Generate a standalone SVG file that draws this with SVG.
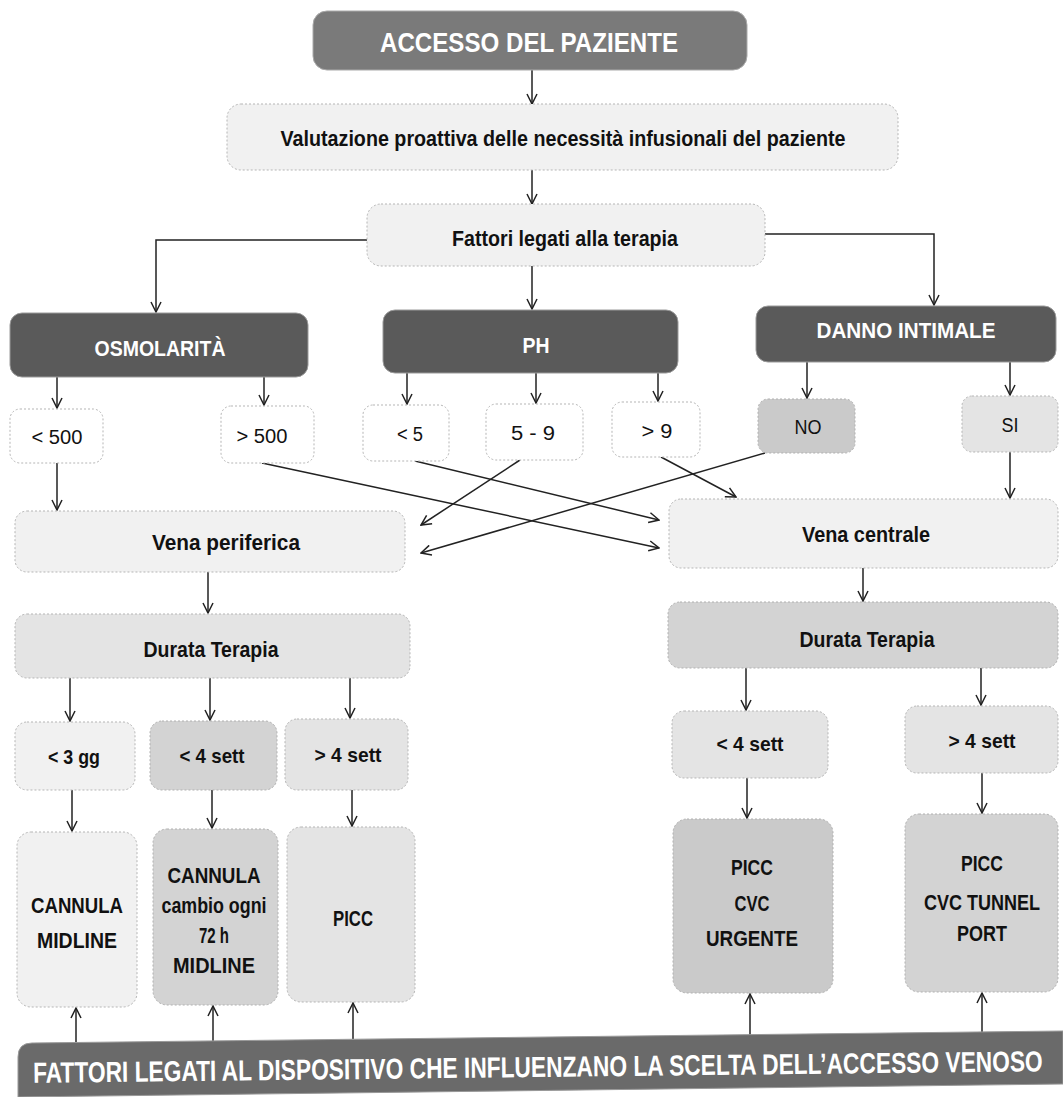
<svg xmlns="http://www.w3.org/2000/svg" width="1063" height="1097" viewBox="0 0 1063 1097">
<style>
text{font-family:"Liberation Sans",Arial,sans-serif;text-anchor:middle;fill:#111;}
.b{font-weight:bold;}
.w{fill:#fff;font-weight:bold;}
.dark{fill:#5a5a5a;stroke:#9a9a9a;stroke-width:1;}
.mid{fill:#7a7a7a;stroke:#aaa;stroke-width:1;}
.lt{fill:#f1f1f1;stroke:#b5b5b5;stroke-width:1;stroke-dasharray:2 2;}
.wh{fill:#fff;stroke:#b5b5b5;stroke-width:1;stroke-dasharray:2 2;}
.g1{fill:#e4e4e4;stroke:#b5b5b5;stroke-width:1;stroke-dasharray:2 2;}
.g2{fill:#d3d3d3;stroke:#b0b0b0;stroke-width:1;stroke-dasharray:2 2;}
.g3{fill:#cacaca;stroke:#b0b0b0;stroke-width:1;stroke-dasharray:2 2;}
.c{fill:none;stroke:#222;stroke-width:1.5;marker-end:url(#ar);}
</style>
<defs>
<marker id="ar" viewBox="0 0 12 12" refX="11" refY="6" markerWidth="12" markerHeight="12" markerUnits="userSpaceOnUse" orient="auto">
<path d="M1,1 L11,6 L1,11" fill="none" stroke="#222" stroke-width="1.5"/>
</marker>
</defs>
<rect width="1063" height="1097" fill="#fff"/>

<g id="connectors">
<path class="c" d="M532,70 V104"/>
<path class="c" d="M532,170 V204"/>
<path class="c" d="M532,266 V309"/>
<path class="c" d="M367,240 H156 V312"/>
<path class="c" d="M765,234 H934 V305"/>
<path class="c" d="M57,377 V408"/>
<path class="c" d="M264,377 V405"/>
<path class="c" d="M407,373 V404"/>
<path class="c" d="M536,373 V403"/>
<path class="c" d="M658,373 V401"/>
<path class="c" d="M807,362 V398"/>
<path class="c" d="M1010,362 V395"/>
<path class="c" d="M57,463 V510"/>
<path class="c" d="M1010,452 V498"/>
<path class="c" d="M262,463 L659,548"/>
<path class="c" d="M415,461 L659,520"/>
<path class="c" d="M520,460 L421,525"/>
<path class="c" d="M661,457 L736,497"/>
<path class="c" d="M765,453 L421,553"/>
<path class="c" d="M208,572 V613"/>
<path class="c" d="M863,568 V601"/>
<path class="c" d="M70,678 V721"/>
<path class="c" d="M210,678 V720"/>
<path class="c" d="M350,678 V718"/>
<path class="c" d="M746,668 V710"/>
<path class="c" d="M981,668 V705"/>
<path class="c" d="M72,790 V831"/>
<path class="c" d="M212,790 V828"/>
<path class="c" d="M352,790 V826"/>
<path class="c" d="M747,778 V818"/>
<path class="c" d="M982,773 V813"/>
<path class="c" d="M76,1042 V1008"/>
<path class="c" d="M213,1041 V1006"/>
<path class="c" d="M353,1039 V1003"/>
<path class="c" d="M750,1035 V994"/>
<path class="c" d="M982,1032 V993"/>
</g>

<g id="n-accesso">
<rect class="mid" x="313" y="11" width="434" height="59" rx="14"/>
<text class="w" x="529" y="52" font-size="28" textLength="298" lengthAdjust="spacingAndGlyphs">ACCESSO DEL PAZIENTE</text>
</g>
<g id="n-valutazione">
<rect class="lt" x="227" y="104" width="671" height="66" rx="14"/>
<text class="b" x="563" y="146" font-size="22" textLength="565" lengthAdjust="spacingAndGlyphs">Valutazione proattiva delle necessità infusionali del paziente</text>
</g>
<g id="n-fattori">
<rect class="lt" x="367" y="204" width="398" height="62" rx="14"/>
<text class="b" x="565" y="246" font-size="22" textLength="226" lengthAdjust="spacingAndGlyphs">Fattori legati alla terapia</text>
</g>

<g id="n-osmolarita">
<rect class="dark" x="10" y="313" width="298" height="64" rx="12"/>
<text class="w" x="160" y="356" font-size="22" textLength="131" lengthAdjust="spacingAndGlyphs">OSMOLARITÀ</text>
</g>
<g id="n-ph">
<rect class="dark" x="383" y="310" width="295" height="63" rx="12"/>
<text class="w" x="536" y="353" font-size="22" textLength="27" lengthAdjust="spacingAndGlyphs">PH</text>
</g>
<g id="n-danno">
<rect class="dark" x="756" y="306" width="300" height="56" rx="12"/>
<text class="w" x="906" y="338" font-size="22" textLength="179" lengthAdjust="spacingAndGlyphs">DANNO INTIMALE</text>
</g>

<g id="n-lt500">
<rect class="wh" x="10" y="409" width="93" height="54" rx="10"/>
<text x="57" y="444" font-size="20" textLength="51" lengthAdjust="spacingAndGlyphs">&lt; 500</text>
</g>
<g id="n-gt500">
<rect class="wh" x="221" y="406" width="93" height="57" rx="10"/>
<text x="262" y="443" font-size="20" textLength="51" lengthAdjust="spacingAndGlyphs">&gt; 500</text>
</g>
<g id="n-lt5">
<rect class="wh" x="363" y="405" width="86" height="56" rx="10"/>
<text x="410" y="441" font-size="20" textLength="26" lengthAdjust="spacingAndGlyphs">&lt; 5</text>
</g>
<g id="n-5-9">
<rect class="wh" x="486" y="404" width="97" height="56" rx="10"/>
<text x="533" y="440" font-size="20" textLength="44" lengthAdjust="spacingAndGlyphs">5 - 9</text>
</g>
<g id="n-gt9">
<rect class="wh" x="612" y="402" width="88" height="55" rx="10"/>
<text x="657" y="438" font-size="20" textLength="31" lengthAdjust="spacingAndGlyphs">&gt; 9</text>
</g>
<g id="n-no">
<rect class="g3" x="758" y="399" width="97" height="54" rx="10"/>
<text x="808" y="434" font-size="20" textLength="27" lengthAdjust="spacingAndGlyphs">NO</text>
</g>
<g id="n-si">
<rect class="g1" x="962" y="396" width="96" height="56" rx="10"/>
<text x="1010" y="432" font-size="20" textLength="17" lengthAdjust="spacingAndGlyphs">SI</text>
</g>

<g id="n-vena-periferica">
<rect class="lt" x="15" y="511" width="390" height="61" rx="12"/>
<text class="b" x="226" y="550" font-size="22" textLength="148" lengthAdjust="spacingAndGlyphs">Vena periferica</text>
</g>
<g id="n-vena-centrale">
<rect class="lt" x="669" y="499" width="389" height="69" rx="12"/>
<text class="b" x="866" y="542" font-size="22" textLength="128" lengthAdjust="spacingAndGlyphs">Vena centrale</text>
</g>

<g id="n-durata-l">
<rect class="g1" x="15" y="614" width="395" height="64" rx="12"/>
<text class="b" x="211" y="657" font-size="22" textLength="135" lengthAdjust="spacingAndGlyphs">Durata Terapia</text>
</g>
<g id="n-durata-r">
<rect class="g2" x="668" y="602" width="390" height="66" rx="12"/>
<text class="b" x="867" y="647" font-size="22" textLength="135" lengthAdjust="spacingAndGlyphs">Durata Terapia</text>
</g>

<g id="n-lt3gg">
<rect class="lt" x="15" y="722" width="120" height="68" rx="12"/>
<text class="b" x="74" y="764" font-size="21" textLength="52" lengthAdjust="spacingAndGlyphs">&lt; 3 gg</text>
</g>
<g id="n-lt4sett-l">
<rect class="g2" x="150" y="721" width="127" height="69" rx="12"/>
<text class="b" x="212" y="763" font-size="21" textLength="65" lengthAdjust="spacingAndGlyphs">&lt; 4 sett</text>
</g>
<g id="n-gt4sett-l">
<rect class="g1" x="285" y="719" width="123" height="71" rx="12"/>
<text class="b" x="348" y="762" font-size="21" textLength="67" lengthAdjust="spacingAndGlyphs">&gt; 4 sett</text>
</g>
<g id="n-lt4sett-r">
<rect class="g1" x="672" y="711" width="156" height="67" rx="12"/>
<text class="b" x="750" y="751" font-size="21" textLength="67" lengthAdjust="spacingAndGlyphs">&lt; 4 sett</text>
</g>
<g id="n-gt4sett-r">
<rect class="g1" x="905" y="706" width="153" height="67" rx="12"/>
<text class="b" x="982" y="748" font-size="21" textLength="67" lengthAdjust="spacingAndGlyphs">&gt; 4 sett</text>
</g>

<g id="n-cannula-midline">
<rect class="lt" x="17" y="832" width="120" height="175" rx="14"/>
<text class="b" x="77" y="913" font-size="22" textLength="92" lengthAdjust="spacingAndGlyphs">CANNULA</text>
<text class="b" x="77" y="948" font-size="22" textLength="80" lengthAdjust="spacingAndGlyphs">MIDLINE</text>
</g>
<g id="n-cannula-cambio">
<rect class="g2" x="153" y="829" width="125" height="176" rx="14"/>
<text class="b" x="214" y="883" font-size="22" textLength="93" lengthAdjust="spacingAndGlyphs">CANNULA</text>
<text class="b" x="214" y="913" font-size="22" textLength="105" lengthAdjust="spacingAndGlyphs">cambio ogni</text>
<text class="b" x="214" y="943" font-size="22" textLength="30" lengthAdjust="spacingAndGlyphs">72 h</text>
<text class="b" x="214" y="973" font-size="22" textLength="82" lengthAdjust="spacingAndGlyphs">MIDLINE</text>
</g>
<g id="n-picc-l">
<rect class="g1" x="287" y="827" width="128" height="175" rx="14"/>
<text class="b" x="353" y="926" font-size="22" textLength="40" lengthAdjust="spacingAndGlyphs">PICC</text>
</g>
<g id="n-picc-cvc-urgente">
<rect class="g3" x="673" y="819" width="160" height="174" rx="14"/>
<text class="b" x="752" y="875" font-size="22" textLength="42" lengthAdjust="spacingAndGlyphs">PICC</text>
<text class="b" x="752" y="911" font-size="22" textLength="35" lengthAdjust="spacingAndGlyphs">CVC</text>
<text class="b" x="752" y="946" font-size="22" textLength="92" lengthAdjust="spacingAndGlyphs">URGENTE</text>
</g>
<g id="n-picc-cvc-tunnel">
<rect class="g2" x="905" y="814" width="153" height="178" rx="14"/>
<text class="b" x="982" y="871" font-size="22" textLength="42" lengthAdjust="spacingAndGlyphs">PICC</text>
<text class="b" font-size="22" transform="translate(982 910) scale(0.82 1)">CVC TUNNEL</text>
<text class="b" x="982" y="941" font-size="22" textLength="50" lengthAdjust="spacingAndGlyphs">PORT</text>
</g>

<g id="n-fattori-dispositivo">
<path d="M18,1057 Q18,1043 32,1043 L1063,1031 L1063,1084 L18,1097 Z" fill="#6a6a6a" stroke="#999" stroke-width="1"/>
<text class="w" font-size="29" transform="translate(538 1077) rotate(-0.66) scale(0.785 1)">FATTORI LEGATI AL DISPOSITIVO CHE INFLUENZANO LA SCELTA DELL’ACCESSO VENOSO</text>
</g>
</svg>
